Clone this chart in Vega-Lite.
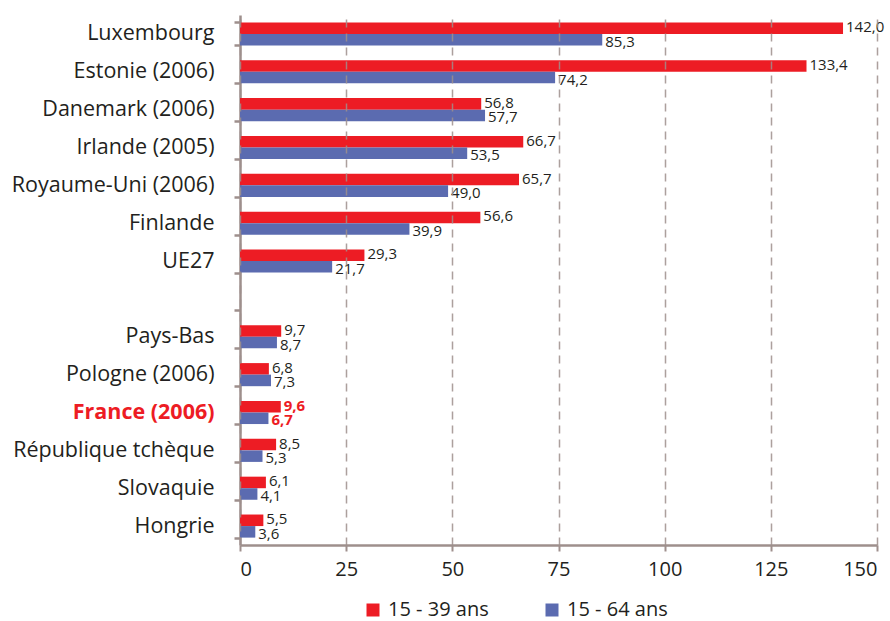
{
  "$schema": "https://vega.github.io/schema/vega-lite/v6.json",
  "width": 637,
  "height": 530,
  "autosize": "none",
  "padding": {"left": 240, "top": 15, "right": 13, "bottom": 76},
  "config": {
    "locale": {"number": {"decimal": ",", "thousands": " ", "grouping": [3], "currency": ["", " €"]}},
    "font": "Open Sans",
    "view": {"stroke": null}
  },
  "data": {
    "values": [
      {"pays": "Luxembourg", "groupe": "15 - 39 ans", "valeur": 142.0},
      {"pays": "Luxembourg", "groupe": "15 - 64 ans", "valeur": 85.3},
      {"pays": "Estonie (2006)", "groupe": "15 - 39 ans", "valeur": 133.4},
      {"pays": "Estonie (2006)", "groupe": "15 - 64 ans", "valeur": 74.2},
      {"pays": "Danemark (2006)", "groupe": "15 - 39 ans", "valeur": 56.8},
      {"pays": "Danemark (2006)", "groupe": "15 - 64 ans", "valeur": 57.7},
      {"pays": "Irlande (2005)", "groupe": "15 - 39 ans", "valeur": 66.7},
      {"pays": "Irlande (2005)", "groupe": "15 - 64 ans", "valeur": 53.5},
      {"pays": "Royaume-Uni (2006)", "groupe": "15 - 39 ans", "valeur": 65.7},
      {"pays": "Royaume-Uni (2006)", "groupe": "15 - 64 ans", "valeur": 49.0},
      {"pays": "Finlande", "groupe": "15 - 39 ans", "valeur": 56.6},
      {"pays": "Finlande", "groupe": "15 - 64 ans", "valeur": 39.9},
      {"pays": "UE27", "groupe": "15 - 39 ans", "valeur": 29.3},
      {"pays": "UE27", "groupe": "15 - 64 ans", "valeur": 21.7},
      {"pays": "Pays-Bas", "groupe": "15 - 39 ans", "valeur": 9.7},
      {"pays": "Pays-Bas", "groupe": "15 - 64 ans", "valeur": 8.7},
      {"pays": "Pologne (2006)", "groupe": "15 - 39 ans", "valeur": 6.8},
      {"pays": "Pologne (2006)", "groupe": "15 - 64 ans", "valeur": 7.3},
      {"pays": "France (2006)", "groupe": "15 - 39 ans", "valeur": 9.6},
      {"pays": "France (2006)", "groupe": "15 - 64 ans", "valeur": 6.7},
      {"pays": "République tchèque", "groupe": "15 - 39 ans", "valeur": 8.5},
      {"pays": "République tchèque", "groupe": "15 - 64 ans", "valeur": 5.3},
      {"pays": "Slovaquie", "groupe": "15 - 39 ans", "valeur": 6.1},
      {"pays": "Slovaquie", "groupe": "15 - 64 ans", "valeur": 4.1},
      {"pays": "Hongrie", "groupe": "15 - 39 ans", "valeur": 5.5},
      {"pays": "Hongrie", "groupe": "15 - 64 ans", "valeur": 3.6}
    ]
  },
  "encoding": {
    "y": {
      "field": "pays",
      "type": "nominal",
      "scale": {
        "domain": ["Luxembourg", "Estonie (2006)", "Danemark (2006)", "Irlande (2005)", "Royaume-Uni (2006)", "Finlande", "UE27", " ", "Pays-Bas", "Pologne (2006)", "France (2006)", "République tchèque", "Slovaquie", "Hongrie"],
        "paddingInner": 0.39,
        "paddingOuter": 0.195
      },
      "axis": {
        "title": null,
        "domainColor": "#9e8f8c",
        "domainWidth": 2.5,
        "tickColor": "#9e8f8c",
        "tickWidth": 2.5,
        "tickSize": 6,
        "tickBand": "extent",
        "labelFontSize": 21.5,
        "labelLimit": 400,
        "labelPadding": 20,
        "labelColor": {"expr": "datum.value === 'France (2006)' ? '#ed1c24' : '#231f20'"},
        "labelFontWeight": {"expr": "datum.value === 'France (2006)' ? 'bold' : 'normal'"}
      }
    },
    "yOffset": {
      "field": "groupe",
      "type": "nominal",
      "sort": ["15 - 39 ans", "15 - 64 ans"],
      "scale": {"paddingInner": 0, "paddingOuter": 0}
    },
    "x": {
      "field": "valeur",
      "type": "quantitative",
      "scale": {"domain": [0, 150], "nice": false},
      "axis": {
        "title": null,
        "values": [0, 25, 50, 75, 100, 125, 150],
        "grid": true,
        "gridDash": [8, 6],
        "gridColor": "#9e8f8c",
        "gridWidth": 1.5,
        "gridOpacity": 0.85,
        "domainColor": "#9e8f8c",
        "domainWidth": 2.5,
        "tickColor": "#9e8f8c",
        "tickWidth": 2,
        "tickSize": 6,
        "labelFontSize": 20,
        "labelColor": "#231f20",
        "labelPadding": 8,
        "zindex": 1
      }
    }
  },
  "layer": [
    {
      "mark": {"type": "bar"},
      "encoding": {
        "color": {
          "field": "groupe",
          "type": "nominal",
          "scale": {"domain": ["15 - 39 ans", "15 - 64 ans"], "range": ["#ed1c24", "#5b6bb0"]},
          "legend": {
            "title": null,
            "orient": "none",
            "legendX": 123,
            "legendY": 585,
            "direction": "horizontal",
            "symbolType": "square",
            "symbolSize": 169,
            "symbolStrokeWidth": 0,
            "labelFontSize": 20,
            "labelLimit": 300,
            "labelColor": "#231f20",
            "labelOffset": 5,
            "columnPadding": 53
          }
        }
      }
    },
    {
      "transform": [{"filter": "datum.pays !== 'France (2006)' && datum.groupe === '15 - 39 ans'"}],
      "mark": {"type": "text", "align": "left", "baseline": "middle", "dx": 3, "dy": -1, "fontSize": 15, "color": "#231f20"},
      "encoding": {
        "text": {"field": "valeur", "type": "quantitative", "format": ".1f"}
      }
    },
    {
      "transform": [{"filter": "datum.pays !== 'France (2006)' && datum.groupe === '15 - 64 ans'"}],
      "mark": {"type": "text", "align": "left", "baseline": "middle", "dx": 3, "dy": 2, "fontSize": 15, "color": "#231f20"},
      "encoding": {
        "text": {"field": "valeur", "type": "quantitative", "format": ".1f"}
      }
    },
    {
      "transform": [{"filter": "datum.pays === 'France (2006)' && datum.groupe === '15 - 39 ans'"}],
      "mark": {"type": "text", "align": "left", "baseline": "middle", "dx": 3, "dy": -1, "fontSize": 15, "fontWeight": "bold", "color": "#ed1c24"},
      "encoding": {
        "text": {"field": "valeur", "type": "quantitative", "format": ".1f"}
      }
    },
    {
      "transform": [{"filter": "datum.pays === 'France (2006)' && datum.groupe === '15 - 64 ans'"}],
      "mark": {"type": "text", "align": "left", "baseline": "middle", "dx": 3, "dy": 2, "fontSize": 15, "fontWeight": "bold", "color": "#ed1c24"},
      "encoding": {
        "text": {"field": "valeur", "type": "quantitative", "format": ".1f"}
      }
    }
  ]
}
